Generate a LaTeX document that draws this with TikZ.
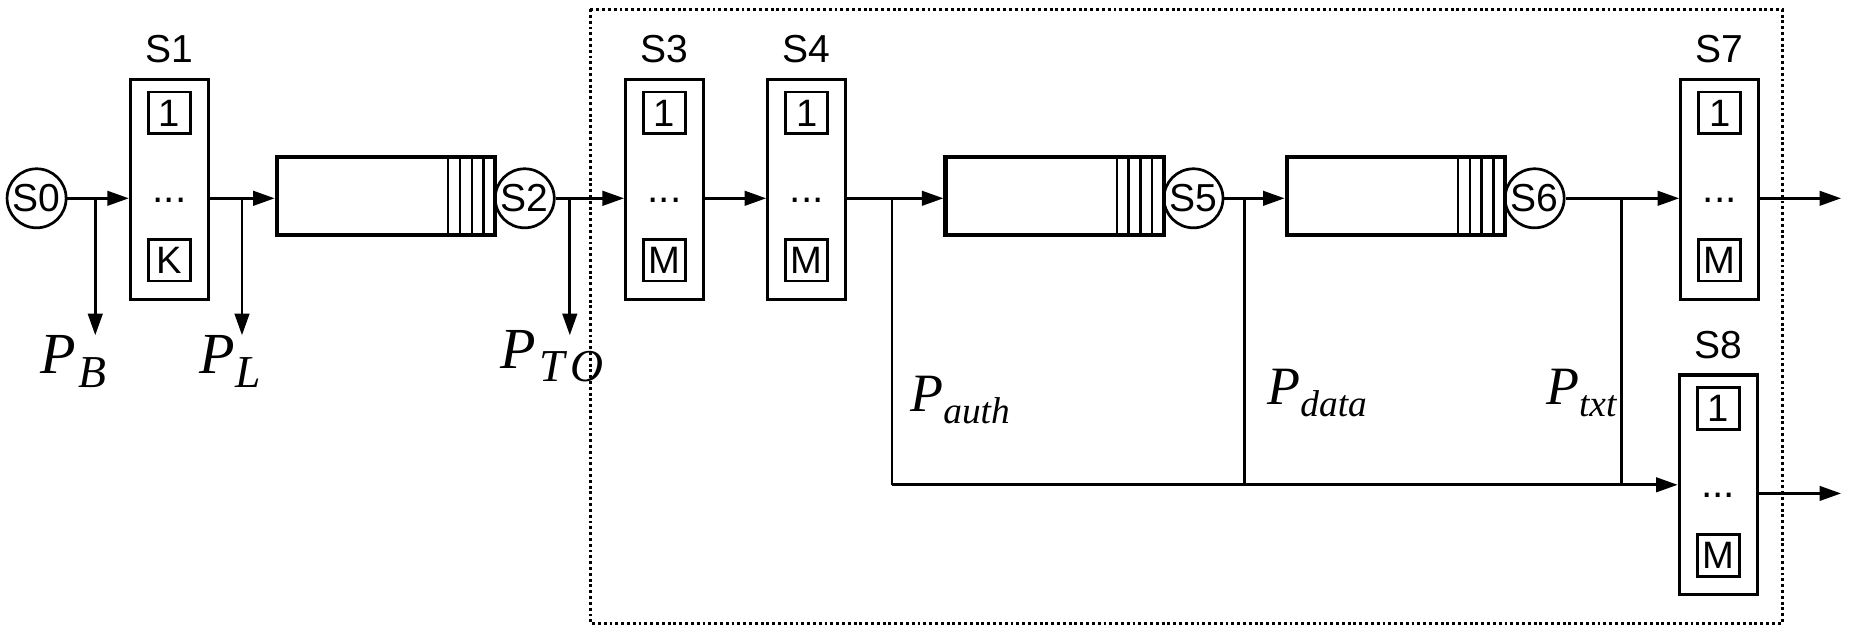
\documentclass[tikz,border=0pt]{standalone}
\usepackage{fontspec}
\setmainfont{Liberation Sans}
\newfontfamily\pfont{Liberation Serif}
\usetikzlibrary{arrows.meta}
\newcommand{\plab}[4]{{\pfont\itshape\fontsize{#1}{#1}\selectfont P}\raisebox{#3}{\pfont\itshape\fontsize{#2}{#2}\selectfont #4}}

\begin{document}
\begin{tikzpicture}[x=0.01cm,y=-0.01cm,
  srv/.style={rectangle,draw,line width=0.75pt,minimum width=0.66cm,minimum height=1.86cm},
  slot/.style={rectangle,draw,line width=0.7pt,minimum size=0.355cm,inner sep=0pt,font=\fontsize{9.2}{10}\selectfont},
  que/.style={rectangle,draw,line width=1pt,minimum width=1.85cm,minimum height=0.66cm,
    path picture={
      \draw[line width=0.55pt] ([xshift=-0.1cm]path picture bounding box.north east) -- ([xshift=-0.1cm]path picture bounding box.south east);
      \draw[line width=0.55pt] ([xshift=-0.2cm]path picture bounding box.north east) -- ([xshift=-0.2cm]path picture bounding box.south east);
      \draw[line width=0.55pt] ([xshift=-0.3cm]path picture bounding box.north east) -- ([xshift=-0.3cm]path picture bounding box.south east);
      \draw[line width=0.55pt] ([xshift=-0.4cm]path picture bounding box.north east) -- ([xshift=-0.4cm]path picture bounding box.south east);}},
  stn/.style={circle,draw,line width=0.65pt,minimum size=0.5cm,inner sep=0pt,font=\fontsize{9.4}{10}\selectfont},
  lab/.style={font=\fontsize{9.4}{10}\selectfont},
  dotlbl/.style={anchor=base,inner sep=0pt,font=\fontsize{9.8}{10}\selectfont},
  plbl/.style={anchor=base west,inner sep=0pt},
  arr/.style={-{Triangle[length=5.2pt,width=3.5pt]},line width=0.65pt},
  ln/.style={line width=0.65pt}]
\useasboundingbox (0,0) rectangle (1568,534.5);

% Frame
\draw[line width=0.7pt,dash pattern=on 0.7pt off 0.7pt] (500,7.7) rectangle (1509.7,528);

% Source
\node[stn] (s0) at (31,168) {S0};

% S1
\node[srv] (s1) at (143.5,160.3) {};
\node[lab] (s1t) at (143.5,42) {S1};
\node[slot] (s1a) at (143.5,95.7) {1};
\node[dotlbl] (s1d) at (143.5,171.3) {...};
\node[slot] (s1b) at (143.5,220.3) {K};

% Queue 1 + S2
\node[que] (q1) at (327,166) {};
\node[stn] (s2) at (444.5,168) {S2};

% S3
\node[srv] (s3) at (563,160.3) {};
\node[lab] (s3t) at (563,42) {S3};
\node[slot] (s3a) at (563,95.7) {1};
\node[dotlbl] (s3d) at (563,171.3) {...};
\node[slot] (s3b) at (563,220.3) {M};

% S4
\node[srv] (s4) at (683.4,160.3) {};
\node[lab] (s4t) at (683.4,42) {S4};
\node[slot] (s4a) at (683.4,95.7) {1};
\node[dotlbl] (s4d) at (683.4,171.3) {...};
\node[slot] (s4b) at (683.4,220.3) {M};

% Queue 2 + S5, Queue 3 + S6
\node[que] (q2) at (893.5,166) {};
\node[stn] (s5) at (1011,168) {S5};
\node[que] (q3) at (1182.5,166) {};
\node[stn] (s6) at (1300,168) {S6};

% S7
\node[srv] (s7) at (1456.8,160.3) {};
\node[lab] (s7t) at (1456.8,42) {S7};
\node[slot] (s7a) at (1456.8,95.7) {1};
\node[dotlbl] (s7d) at (1456.8,171.3) {...};
\node[slot] (s7b) at (1456.8,220.3) {M};

% S8
\node[srv] (s8) at (1455.5,410.7) {};
\node[lab] (s8t) at (1455.5,292.4) {S8};
\node[slot] (s8a) at (1455.5,346) {1};
\node[dotlbl] (s8d) at (1455.5,421.7) {...};
\node[slot] (s8b) at (1455.5,470.7) {M};

% Probabilities
\node[plbl] (pb) at (34,316) {\plab{14}{11}{-3.4pt}{\kern0.6pt B}};
\node[plbl] (pl) at (168.6,316) {\plab{14}{11}{-3.4pt}{L}};
\node[plbl] (pto) at (423,312) {\plab{14}{11}{-3.2pt}{\kern1pt T\kern1.2pt O}};
\node[plbl] (pauth) at (770.5,349) {\plab{13}{9}{-2.8pt}{auth}};
\node[plbl] (pdata) at (1073,343) {\plab{13}{9}{-2.8pt}{data}};
\node[plbl] (ptxt) at (1309,343) {\plab{13}{9}{-2.8pt}{txt}};

% Branch points
\coordinate (cb) at (80.7,284);
\coordinate (cl) at (205,284);
\coordinate (cto) at (482.7,284);
\coordinate (ca) at (755.6,410.7);
\coordinate (cd) at (1054.5,410.7);
\coordinate (ct) at (1373.6,410.7);
\coordinate (o7) at (1559.6,168);
\coordinate (o8) at (1559.6,418);

% Main flow
\draw[arr] (s0) -- (s0 -| s1.west);
\draw[arr] (cb |- s0) -- (cb);
\draw[arr] (s0 -| s1.east) -- (s0 -| q1.west);
\draw[arr] (cl |- s0) -- (cl);
\draw[arr] (s2) -- (s2 -| s3.west);
\draw[arr] (cto |- s2) -- (cto);
\draw[arr] (s2 -| s3.east) -- (s2 -| s4.west);
\draw[arr] (s2 -| s4.east) -- (s2 -| q2.west);
\draw[arr] (s5) -- (s5 -| q3.west);
\draw[arr] (s6) -- (s6 -| s7.west);
\draw[arr] (s6 -| s7.east) -- (o7);
\draw[arr] (s8.east |- o8) -- (o8);

% Bypass to S8
\draw[ln] (ca |- s2) -- (ca);
\draw[ln] (cd |- s5) -- (cd);
\draw[ln] (ct |- s6) -- (ct);
\draw[arr] (ca) -- (s8.west);
\end{tikzpicture}
\end{document}
